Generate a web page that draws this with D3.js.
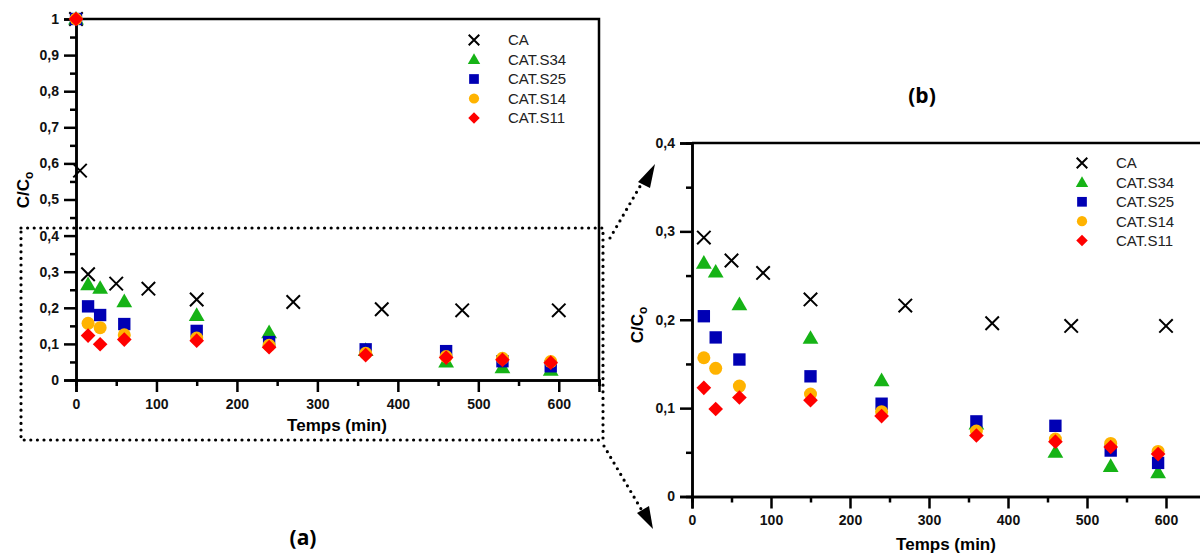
<!DOCTYPE html>
<html><head><meta charset="utf-8">
<script src="https://cdn.jsdelivr.net/npm/d3@7"></script>
<style>
body{margin:0;background:#fff;}
svg{display:block;font-family:"Liberation Sans",Arial,sans-serif;}
.tick text{font-family:"Liberation Sans",Arial,sans-serif;font-weight:bold;font-size:14px;fill:#111;}
</style></head><body>
<svg id="c" width="1200" height="553"></svg>
<script>
// ---- data ----
const seriesNames = ["CA","CAT.S34","CAT.S25","CAT.S14","CAT.S11"];
const timesCA  = [0, 5, 15, 50, 90, 150, 270, 380, 480, 600];
const valuesCA = [1, 0.58, 0.293, 0.267, 0.253, 0.223, 0.216, 0.196, 0.193, 0.193];
const timesCAT = [0, 15, 30, 60, 150, 240, 360, 460, 530, 590];
const valuesS34 = [1, 0.264, 0.254, 0.217, 0.179, 0.131, 0.082, 0.050, 0.034, 0.027];
const valuesS25 = [1, 0.204, 0.180, 0.155, 0.136, 0.105, 0.085, 0.080, 0.052, 0.038];
const valuesS14 = [1, 0.157, 0.145, 0.125, 0.116, 0.096, 0.074, 0.065, 0.060, 0.051];
const valuesS11 = [1, 0.123, 0.099, 0.112, 0.109, 0.091, 0.069, 0.062, 0.056, 0.048];
const xTicks = [0,100,200,300,400,500,600];
const xMinor = [50,150,250,350,450,550,650];
const yTicksA = [0,0.1,0.2,0.3,0.4,0.5,0.6,0.7,0.8,0.9,1];
const yMinorA = [0.05,0.15,0.25,0.35,0.45,0.55,0.65,0.75,0.85,0.95];
const yTicksB = [0,0.1,0.2,0.3,0.4];
const yMinorB = [0.05,0.15,0.25,0.35];

const colors = {"CA":"#000","CAT.S34":"#16b316","CAT.S25":"#0000b4","CAT.S14":"#ffb300","CAT.S11":"#ff0000"};
const shapes = {"CA":"x","CAT.S34":"tri","CAT.S25":"sq","CAT.S14":"circ","CAT.S11":"dia"};
const series = [
  {name:"CA", t:timesCA, v:valuesCA},
  {name:"CAT.S34", t:timesCAT, v:valuesS34},
  {name:"CAT.S25", t:timesCAT, v:valuesS25},
  {name:"CAT.S14", t:timesCAT, v:valuesS14},
  {name:"CAT.S11", t:timesCAT, v:valuesS11}
];

const svg = d3.select("#c");
const fmt = d => d===0 ? "0" : d===1 ? "1" : d3.format(".1f")(d).replace(".", ",");

function drawMarker(g, name, x, y, s){
  const c = colors[name], k = shapes[name];
  if(k==="x"){
    const h = s*0.48;
    g.append("path").attr("d",`M${x-h},${y-h}L${x+h},${y+h}M${x-h},${y+h}L${x+h},${y-h}`)
     .attr("stroke",c).attr("stroke-width",2).attr("fill","none");
  } else if(k==="tri"){
    g.append("path").attr("d",d3.symbol(d3.symbolTriangle, s*s*0.55)()).attr("transform",`translate(${x},${y+1})`).attr("fill",c);
  } else if(k==="sq"){
    g.append("path").attr("d",d3.symbol(d3.symbolSquare, s*s*0.78)()).attr("transform",`translate(${x},${y})`).attr("fill",c);
  } else if(k==="circ"){
    g.append("path").attr("d",d3.symbol(d3.symbolCircle, s*s*0.68)()).attr("transform",`translate(${x},${y})`).attr("fill",c);
  } else {
    g.append("path").attr("d",d3.symbol(d3.symbolSquare, s*s*0.55)()).attr("transform",`translate(${x},${y}) rotate(45)`).attr("fill",c);
  }
}

function panel(x, y, yTicks, yMinor, ymax, legendX, legendY, legendStep, markSize){
  const g = svg.append("g");
  g.append("path").attr("d",`M${x.range()[0]},${y.range()[1]}H${x.range()[1]}V${y.range()[0]}`)
    .attr("fill","none").attr("stroke","#000").attr("stroke-width",2.5);
  g.append("g").attr("transform",`translate(0,${y.range()[0]})`)
    .call(d3.axisBottom(x).tickValues(xTicks).tickSize(12).tickPadding(7).tickFormat(d=>d));
  g.append("g").attr("transform",`translate(0,${y.range()[0]})`)
    .call(d3.axisBottom(x).tickValues(xMinor).tickSize(6).tickFormat(""));
  g.append("g").attr("transform",`translate(${x.range()[0]},0)`)
    .call(d3.axisLeft(y).tickValues(yTicks).tickSize(12).tickPadding(5).tickFormat(fmt));
  g.append("g").attr("transform",`translate(${x.range()[0]},0)`)
    .call(d3.axisLeft(y).tickValues(yMinor).tickSize(6).tickFormat(""));
  g.selectAll(".domain").attr("stroke-width",2.5).attr("stroke","#000");
  g.selectAll(".tick line").attr("stroke-width",2.5).attr("stroke","#000");
  const pg = g.append("g");
  series.forEach(s=>{
    s.t.forEach((t,i)=>{
      if(s.v[i] <= ymax) drawMarker(pg, s.name, x(t), y(s.v[i]), markSize);
    });
  });
  seriesNames.forEach((n,i)=>{
    const ly = legendY + i*legendStep;
    drawMarker(g, n, legendX, ly, 11);
    g.append("text").attr("x",legendX+34).attr("y",ly).attr("dy","0.36em")
      .attr("font-size",15).attr("fill","#222").text(n);
  });
  return g;
}

// Panel (a)
const xA = d3.scaleLinear([0,650],[76,599]);
const yA = d3.scaleLinear([0,1],[380,19]);
const gA = panel(xA, yA, yTicksA, yMinorA, 1.01, 474, 40, 19.5, 14);
gA.append("text").attr("x",337).attr("y",431).attr("text-anchor","middle")
  .attr("font-weight","bold").attr("font-size",17).text("Temps (min)");
const ylA = gA.append("text").attr("transform","translate(29,190) rotate(-90)").attr("text-anchor","middle")
  .attr("font-weight","bold").attr("font-size",17);
ylA.append("tspan").text("C/C");
ylA.append("tspan").attr("font-size",12).attr("dy",4).text("o");

// Panel (b)
const xB = d3.scaleLinear([0,650],[692,1205.5]);
const yB = d3.scaleLinear([0,0.4],[496.5,143]);
const gB = panel(xB, yB, yTicksB, yMinorB, 0.4, 1082, 163, 19.4, 14);
gB.append("text").attr("x",946).attr("y",550).attr("text-anchor","middle")
  .attr("font-weight","bold").attr("font-size",17).text("Temps (min)");
const ylB = gB.append("text").attr("transform","translate(643,325) rotate(-90)").attr("text-anchor","middle")
  .attr("font-weight","bold").attr("font-size",17);
ylB.append("tspan").text("C/C");
ylB.append("tspan").attr("font-size",12).attr("dy",4).text("o");

// dotted zoom rectangle and arrows
const dot = {stroke:"#000","stroke-width":3.2,"stroke-linecap":"round","stroke-dasharray":"0 6.6",fill:"none"};
function dotted(d){ const p = svg.append("path").attr("d",d); Object.entries(dot).forEach(([k,v])=>p.attr(k,v)); return p; }
dotted("M21,228H603V440H21Z");
dotted("M610,238L646,176");
dotted("M604,446L644,514");
svg.append("path").attr("d","M655,164L638,182L650,188Z").attr("fill","#000");
svg.append("path").attr("d","M653,529L637,513L649,506Z").attr("fill","#000");

// panel titles
svg.append("text").attr("x",303).attr("y",545).attr("text-anchor","middle")
  .attr("font-family","'Open Sans',sans-serif").attr("font-weight","bold").attr("font-size",21).text("(a)");
svg.append("text").attr("x",922).attr("y",103).attr("text-anchor","middle")
  .attr("font-family","'Open Sans',sans-serif").attr("font-weight","bold").attr("font-size",21).text("(b)");
</script></body></html>
